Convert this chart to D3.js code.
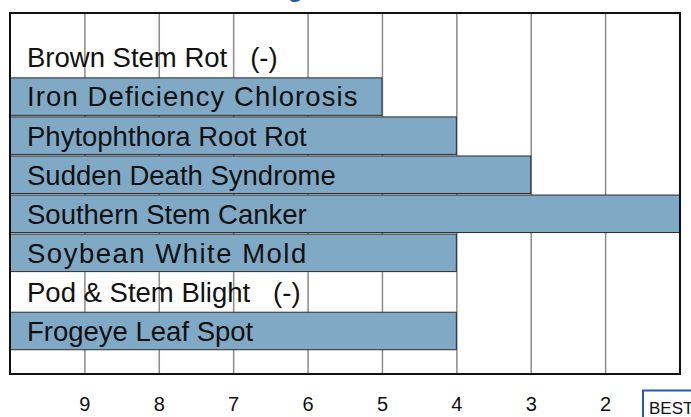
<!DOCTYPE html>
<html>
<head>
<meta charset="utf-8">
<script src="https://cdn.jsdelivr.net/npm/d3@7"></script>
<style>
  body { margin: 0; background: #fff; }
  svg { display: block; font-family: "Liberation Sans", Arial, Helvetica, sans-serif; }
</style>
</head>
<body>
<div id="chart"></div>
<script>
// disease names, rating (10 = worst .. 1 = best), null means no rating
const diseases = ['Brown Stem Rot', 'Iron Deficiency Chlorosis', 'Phytophthora Root Rot',
    'Sudden Death Syndrome', 'Southern Stem Canker', 'Soybean White Mold',
    'Pod & Stem Blight', 'Frogeye Leaf Spot'];
const ratings = [null, 5, 4, 3, 1, 4, null, 4];
const notes = ['(-)', '', '', '', '', '', '(-)', ''];
const tickValues = [9, 8, 7, 6, 5, 4, 3, 2];

// a couple of the row labels are set a bit wider in the original
const labelSpacing = { 'Iron Deficiency Chlorosis': 1.1, 'Soybean White Mold': 1.5 };

function drawChart() {
    const width = 691;
    const height = 417;
    const frame = { left: 10, right: 680, top: 13, bottom: 374 };

    const svg = d3.select('#chart').append('svg')
        .attr('width', width)
        .attr('height', height);

    const xScale = d3.scaleLinear()
        .domain([10, 1])
        .range([frame.left, 679.5]);

    const yScale = d3.scaleBand()
        .domain(diseases)
        .range([38, 350.5])
        .paddingInner(0.04)
        .paddingOuter(0.02);

    // title, mostly above the visible area
    svg.append('text')
        .attr('x', 316)
        .attr('y', -3)
        .attr('text-anchor', 'end')
        .attr('font-size', 24)
        .attr('font-weight', 'bold')
        .attr('fill', '#1b5e9b')
        .text('Disease Ratings');

    // gridlines behind the bars
    svg.append('g')
        .attr('transform', `translate(0, ${frame.bottom})`)
        .call(d3.axisBottom(xScale)
            .tickValues(tickValues)
            .tickSize(-(frame.bottom - frame.top))
            .tickFormat(''))
        .call(g => g.select('.domain').remove())
        .call(g => g.selectAll('.tick line').attr('stroke', '#8a8a8a').attr('stroke-width', 1.5));

    // bars
    const rated = diseases.map((d, i) => ({ name: d, rating: ratings[i] }))
        .filter(d => d.rating !== null);

    svg.append('g').selectAll('rect')
        .data(rated)
        .join('rect')
        .attr('x', xScale(10))
        .attr('y', d => yScale(d.name))
        .attr('width', d => xScale(d.rating) - xScale(10))
        .attr('height', yScale.bandwidth())
        .attr('fill', '#80a9c6')
        .attr('stroke', '#2b2b2b')
        .attr('stroke-width', 1);

    // frame
    svg.append('rect')
        .attr('x', frame.left)
        .attr('y', frame.top)
        .attr('width', frame.right - frame.left)
        .attr('height', frame.bottom - frame.top)
        .attr('fill', 'none')
        .attr('stroke', '#111')
        .attr('stroke-width', 2);

    // labels inside the rows
    svg.append('g').selectAll('text')
        .data(diseases)
        .join('text')
        .attr('x', 27)
        .attr('y', d => yScale(d) + yScale.bandwidth() / 2)
        .attr('dy', '0.36em')
        .attr('font-size', 27.5)
        .attr('fill', '#111')
        .attr('letter-spacing', d => labelSpacing[d] || 0)
        .style('white-space', 'pre')
        .text((d, i) => notes[i] ? `${d}   ${notes[i]}` : d);

    // x axis labels
    svg.append('g')
        .attr('transform', `translate(0, ${frame.bottom})`)
        .call(d3.axisBottom(xScale)
            .tickValues(tickValues)
            .tickSize(0)
            .tickPadding(23))
        .call(g => g.select('.domain').remove())
        .call(g => g.selectAll('text')
            .attr('font-size', 20)
            .attr('font-family', '"Liberation Sans", Arial, sans-serif')
            .attr('fill', '#111'));

    // BEST marker
    svg.append('rect')
        .attr('x', 643)
        .attr('y', 390.5)
        .attr('width', 70)
        .attr('height', 40)
        .attr('fill', '#fff')
        .attr('stroke', '#1f5f9e')
        .attr('stroke-width', 2);

    svg.append('text')
        .attr('x', 649)
        .attr('y', 414)
        .attr('font-size', 17)
        .attr('fill', '#111')
        .text('BEST');
}

drawChart();
</script>
</body>
</html>
